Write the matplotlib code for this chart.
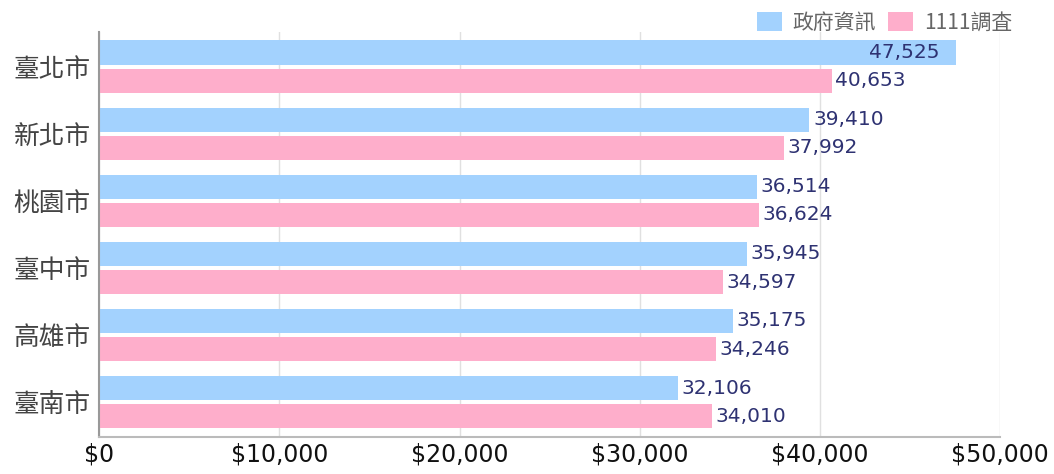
import matplotlib
matplotlib.use('Agg')
import matplotlib.pyplot as plt
import numpy as np
from matplotlib.ticker import FuncFormatter

plt.rcParams['font.family'] = ['Noto Sans CJK TC', 'DejaVu Sans']

cities = ['臺北市', '新北市', '桃園市', '臺中市', '高雄市', '臺南市']
gov = [47525, 39410, 36514, 35945, 35175, 32106]
survey = [40653, 37992, 36624, 34597, 34246, 34010]
series_names = ['政府資訊', '1111調査']
colors = ['#a3d2fe', '#feaecb']

fig = plt.figure(figsize=(10.54, 4.74), dpi=100)
ax = fig.add_axes([0.094, 0.078, 0.855, 0.855])

y = np.arange(len(cities))
h = 0.36
off = 0.21
b1 = ax.barh(y - off, gov, height=h, color=colors[0], label=series_names[0], zorder=2)
b2 = ax.barh(y + off, survey, height=h, color=colors[1], label=series_names[1], zorder=2)

lab_color = '#2e3272'
for bars, vals in [(b1, gov), (b2, survey)]:
    for bar, v in zip(bars, vals):
        cy = bar.get_y() + bar.get_height() / 2
        if v > 45000:
            ax.text(v - 900, cy, f'{v:,}', ha='right', va='center', fontsize=14.5,
                    color=lab_color, family='DejaVu Sans', zorder=3)
        else:
            ax.text(v + 200, cy, f'{v:,}', ha='left', va='center', fontsize=14.5,
                    color=lab_color, family='DejaVu Sans', zorder=3)

ax.set_xlim(0, 50000)
ax.set_ylim(5.52, -0.52)
ax.set_xticks(np.arange(0, 50001, 10000))
ax.xaxis.set_major_formatter(FuncFormatter(lambda v, p: f'${int(v):,}'))
ax.set_yticks(y)
ax.set_yticklabels(cities, fontsize=18.5, color='#444444')
for t in ax.get_xticklabels():
    t.set_fontsize(17)
    t.set_family('DejaVu Sans')
    t.set_color('#111111')
ax.tick_params(axis='y', length=0, pad=6)
ax.tick_params(axis='x', length=0, pad=4)
ax.grid(axis='x', color='#e0e0e0', linewidth=1, zorder=0)
for s in ['top', 'right']:
    ax.spines[s].set_visible(False)
ax.spines['left'].set_color('#999999')
ax.spines['bottom'].set_color('#bbbbbb')
ax.spines['left'].set_linewidth(1.5)
ax.spines['bottom'].set_linewidth(1.5)

leg = fig.legend(loc='upper right', bbox_to_anchor=(0.978, 1.015), ncol=2, frameon=False,
                 fontsize=15, handlelength=1.2, handleheight=1.0, columnspacing=0.6,
                 handletextpad=0.5)
for t in leg.get_texts():
    t.set_color('#666666')

fig.savefig('out.png', dpi=100)
